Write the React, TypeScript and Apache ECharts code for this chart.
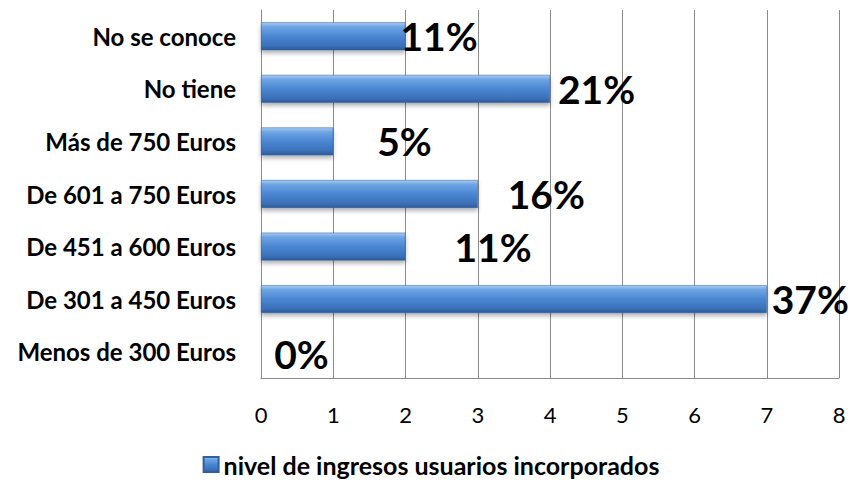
import React, { useEffect, useRef } from "react";
import * as echarts from "echarts";

const categories = [
  "Menos de 300 Euros",
  "De 301 a 450 Euros",
  "De 451 a 600 Euros",
  "De 601 a 750 Euros",
  "Más de 750 Euros",
  "No tiene",
  "No se conoce",
];
const values = [0, 7, 2, 3, 1, 4, 2];
const percentLabels = ["0%", "37%", "11%", "16%", "5%", "21%", "11%"];
const labelOffsets: [number, number][] = [
  [13, 2],
  [5, 0],
  [49, 0],
  [30, 0],
  [44, 0],
  [8, 0],
  [-5, 0],
];
const xTicks = [0, 1, 2, 3, 4, 5, 6, 7, 8];
const seriesName = "nivel de ingresos usuarios incorporados";

const FONT = "Lato";

export default function App() {
  const ref = useRef<HTMLDivElement>(null);
  useEffect(() => {
    if (!ref.current) return;
    const chart = echarts.init(ref.current, null, { renderer: "svg" });
    const barColor = new echarts.graphic.LinearGradient(0, 0, 0, 1, [
      { offset: 0, color: "#a9cdf3" },
      { offset: 0.15, color: "#6fa5e4" },
      { offset: 0.5, color: "#4a86d2" },
      { offset: 0.85, color: "#3b70b8" },
      { offset: 1, color: "#2c5a98" },
    ]);
    chart.setOption({
      animation: false,
      backgroundColor: "#ffffff",
      grid: { left: 261, right: 23, top: 10, bottom: 105, containLabel: false },
      legend: {
        bottom: 1,
        left: "center",
        itemWidth: 15,
        itemHeight: 15,
        itemGap: 6,
        icon: "rect",
        textStyle: { fontFamily: FONT, fontWeight: "bold", fontSize: 25, color: "#000" },
        data: [seriesName],
      },
      xAxis: {
        type: "value",
        min: xTicks[0],
        max: xTicks[xTicks.length - 1],
        interval: 1,
        axisLine: { show: true, lineStyle: { color: "#8c8c8c", width: 1 } },
        axisTick: { show: false },
        splitLine: { show: true, lineStyle: { color: "#8c8c8c", width: 1 } },
        axisLabel: { fontFamily: FONT, fontSize: 22, color: "#000", margin: 25 },
      },
      yAxis: {
        type: "category",
        data: categories,
        axisLine: { show: true, lineStyle: { color: "#8c8c8c", width: 1 } },
        axisTick: { show: false },
        splitLine: { show: false },
        axisLabel: {
          fontFamily: FONT,
          fontWeight: "bold",
          fontSize: 24,
          color: "#000",
          margin: 25,
        },
      },
      series: [
        {
          name: seriesName,
          type: "bar",
          barWidth: "53%",
          itemStyle: {
            color: barColor,
            borderColor: "#2f5f9e",
            borderWidth: 0.5,
            shadowColor: "rgba(0,0,0,0.3)",
            shadowBlur: 4,
            shadowOffsetY: 3,
          },
          data: values.map((v, i) => ({
            value: v,
            label: {
              show: true,
              position: "right",
              distance: 0,
              offset: labelOffsets[i],
              formatter: percentLabels[i],
              fontFamily: FONT,
              fontWeight: "bold",
              fontSize: 39,
              color: "#000",
            },
          })),
        },
      ],
    });
    return () => chart.dispose();
  }, []);
  return (
    <div
      ref={ref}
      style={{ position: "fixed", left: 0, top: 0, width: 862, height: 483 }}
    />
  );
}
